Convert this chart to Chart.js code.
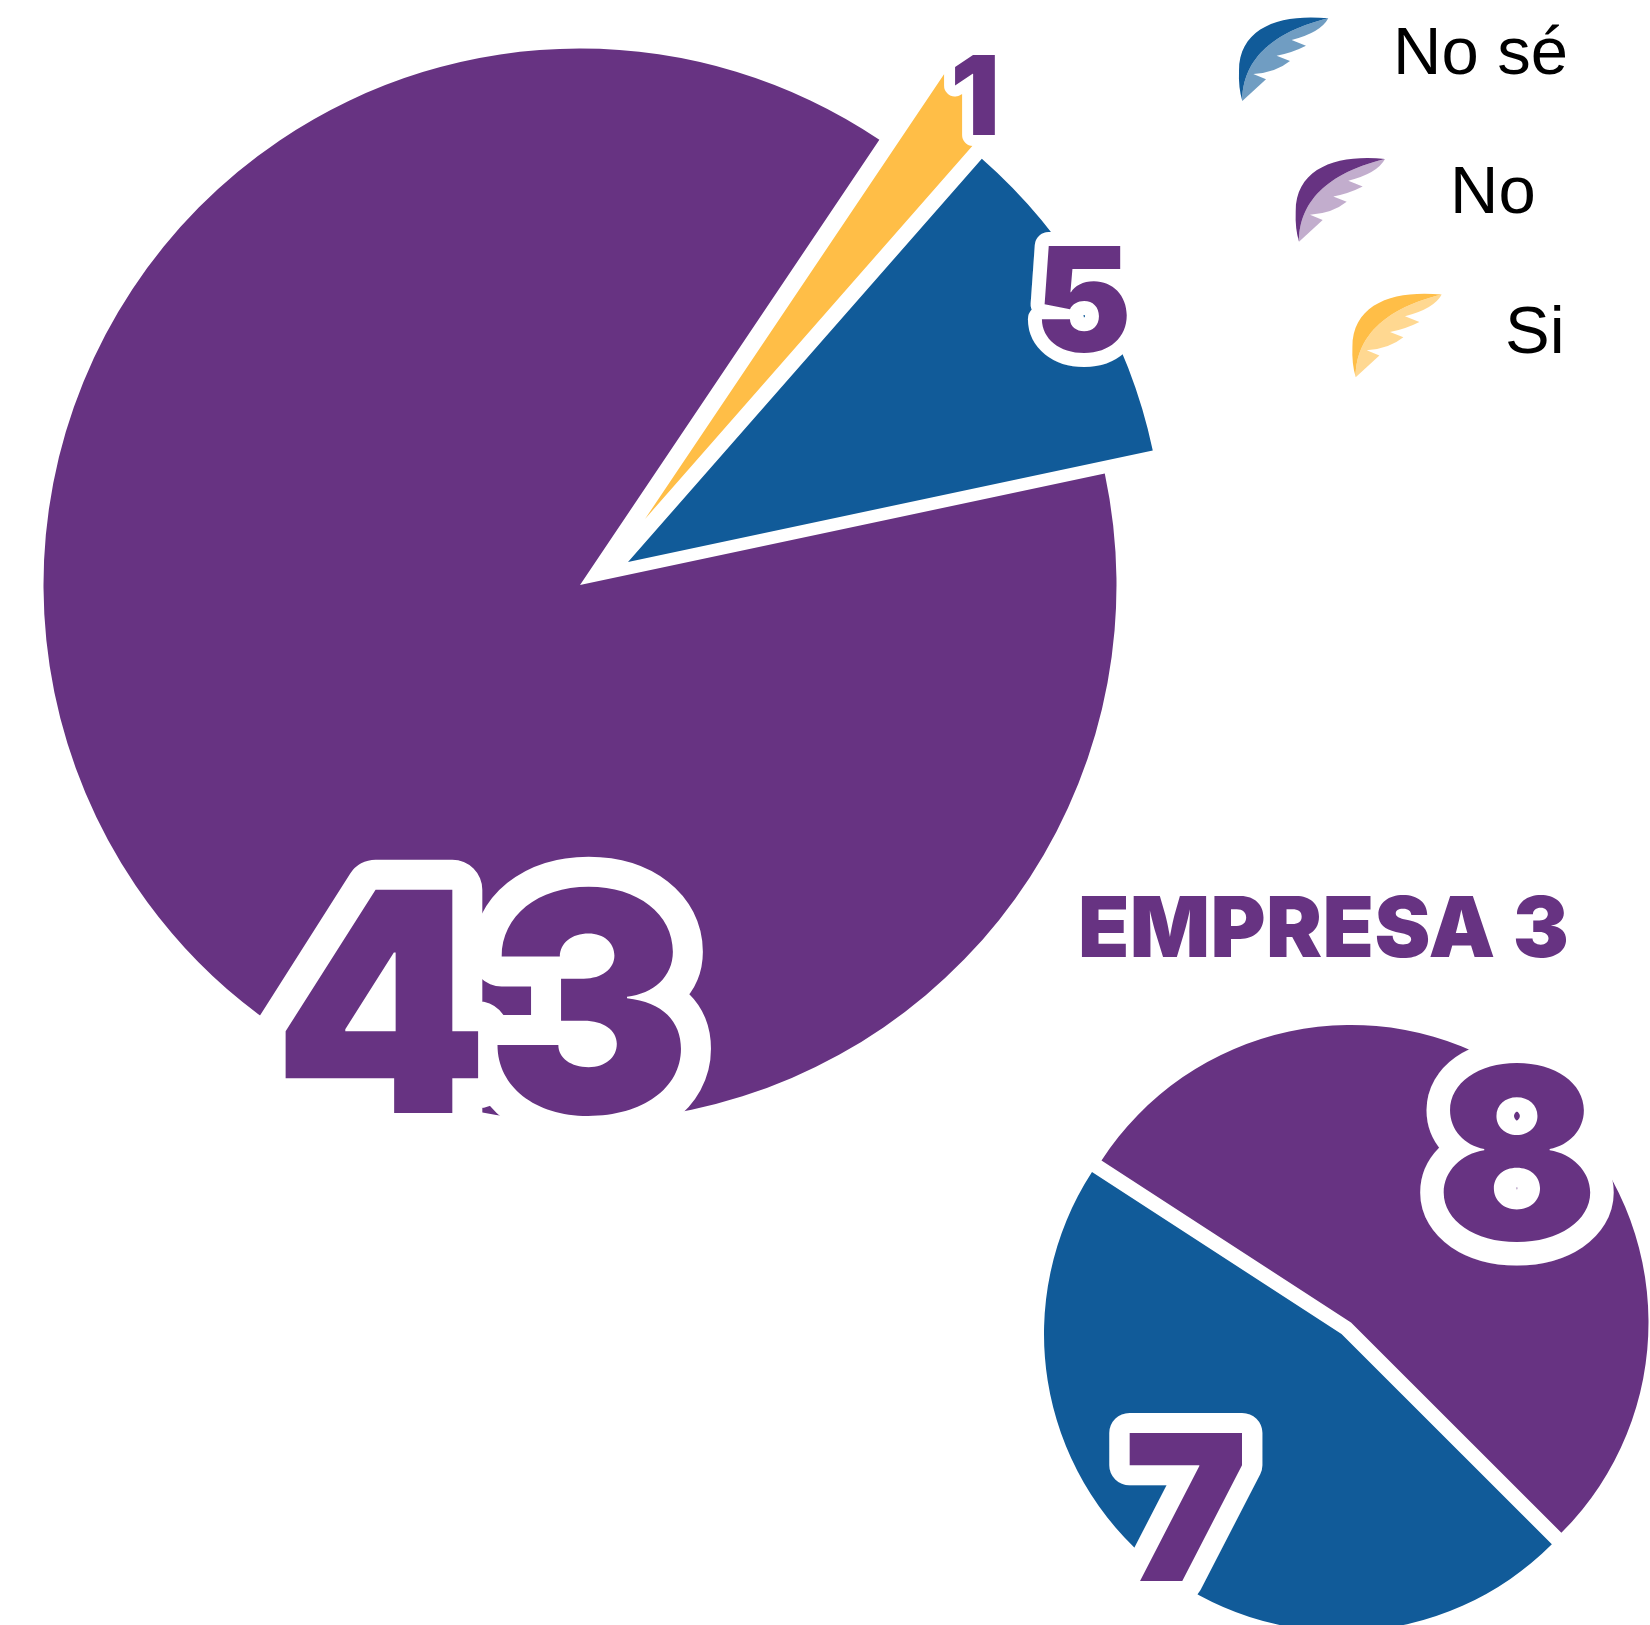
<!DOCTYPE html>
<html><head><meta charset="utf-8">
<style>html,body{margin:0;padding:0;background:#fff;width:1650px;height:1625px;overflow:hidden}
canvas{position:absolute;left:0;top:0}</style>
<script src="https://cdn.jsdelivr.net/npm/chart.js@4/dist/chart.umd.js"></script>
</head><body>
<canvas id="c1" width="1650" height="1625"></canvas>
<canvas id="c2" width="1650" height="1625"></canvas>
<script>
const categories = ['No', 'Si', 'No sé'];
const valuesMain = [43, 1, 5];
const valuesEmpresa3 = [8, 0, 7];
const empresa3Title = 'EMPRESA 3';
const colors = ['#673382', '#FFBE47', '#115B99'];
const legendOrder = ['No sé', 'No', 'Si'];

const PURPLE = colors[0];
const FONT = 'Inter';
const shiftMain = [[0,0],[65,-66],[48,-23]];
const shiftE3 = [[0,0],[0,0],[-9.5,11.5]];
const labelsMain = [{size:307,cx:481,base:1113,lw:60,ls:-2.5,sx:1},{size:110,cx:975,base:135,lw:22,ls:0,sx:1},{size:146,cx:1083,base:352,lw:28,ls:0,sx:1}];
const labelsE3 = [{size:240,cx:1517,base:1240,lw:47,ls:0,sx:1},null,{size:204,cx:1186,base:1581,lw:40,ls:0,sx:1.02}];
const legendPos = {'No sé':{wx:1242.3,wy:101,tx:1393,by:74,c:colors[2],a:.6},'No':{wx:1299,wy:241.7,tx:1450,by:213,c:colors[0],a:.4},'Si':{wx:1355.7,wy:377.3,tx:1505,by:353,c:colors[1],a:.6}};

const wingDark = new Path2D('M86 -82.7C40 -87.3 -3.3 -75 -3.3 -30Q-4 -13.3 0 0C0 -33.3 20 -66.7 86 -82.7Z');
const wingLight = new Path2D('M86 -82.7Q78.3 -68.3 49.3 -61L63.7 -55.3Q50 -48.3 34.3 -45.3L47.7 -40Q33.3 -28.3 11 -27L23.7 -21.7L0 0C0 -33.3 20 -66.7 86 -82.7Z');

function shiftPlugin(shift){return {id:'shift',afterDatasetsUpdate(chart){
  chart.getDatasetMeta(0).data.forEach((a,i)=>{a.x+=shift[i][0];a.y+=shift[i][1];});
}};}
function labelPlugin(values,styles){return {id:'labels',afterDatasetsDraw(chart){
  const ctx=chart.ctx;
  const items=values.map((v,i)=>({t:String(v),s:styles[i]})).filter(o=>o.s);
  const draw=(o,stroke)=>{
    ctx.save();
    ctx.font=`900 ${o.s.size}px ${FONT}`;
    ctx.letterSpacing=o.s.ls+'px';
    ctx.textAlign='center';ctx.textBaseline='alphabetic';
    ctx.translate(o.s.cx,o.s.base);ctx.scale(o.s.sx,1);
    if(stroke){ctx.strokeStyle='#fff';ctx.lineWidth=o.s.lw;ctx.lineJoin='round';ctx.strokeText(o.t,0,0);}
    else{ctx.fillStyle=PURPLE;ctx.fillText(o.t,0,0);}
    ctx.restore();
  };
  items.forEach(o=>draw(o,true));
  items.forEach(o=>draw(o,false));
}};}
const legendPlugin={id:'wingLegend',afterDatasetsDraw(chart){
  const ctx=chart.ctx;
  legendOrder.forEach(name=>{
    const p=legendPos[name];
    ctx.save();ctx.translate(p.wx,p.wy);
    ctx.fillStyle=p.c;ctx.fill(wingDark);
    ctx.globalAlpha=p.a;ctx.fill(wingLight);
    ctx.restore();
    ctx.save();ctx.font='67px "Liberation Sans"';ctx.fillStyle='#000';ctx.textAlign='left';
    ctx.fillText(name,p.tx,p.by);ctx.restore();
  });
}};
const titlePlugin={id:'e3Title',afterDatasetsDraw(chart){
  const ctx=chart.ctx;ctx.save();
  ctx.font=`900 84px ${FONT}`;ctx.letterSpacing='0.4px';ctx.fillStyle=PURPLE;ctx.textAlign='left';
  ctx.fillText(empresa3Title,1078,957);ctx.restore();
}};
function make(id,values,rotation,radius,padding,plugins){
  return new Chart(document.getElementById(id),{type:'pie',
    data:{labels:categories,datasets:[{data:values,backgroundColor:colors,borderWidth:0}]},
    options:{responsive:false,animation:false,rotation,radius,layout:{padding},
      plugins:{legend:{display:false},tooltip:{enabled:false},title:{display:false}}},
    plugins});
}
make('c1',valuesMain,78,536.5,{left:0,top:0,right:490,bottom:455},[shiftPlugin(shiftMain),labelPlugin(valuesMain,labelsMain),legendPlugin]);
make('c2',valuesEmpresa3,-57,297.5,{left:1052,top:1020,right:0,bottom:0},[shiftPlugin(shiftE3),labelPlugin(valuesEmpresa3,labelsE3),titlePlugin]);
</script></body></html>
